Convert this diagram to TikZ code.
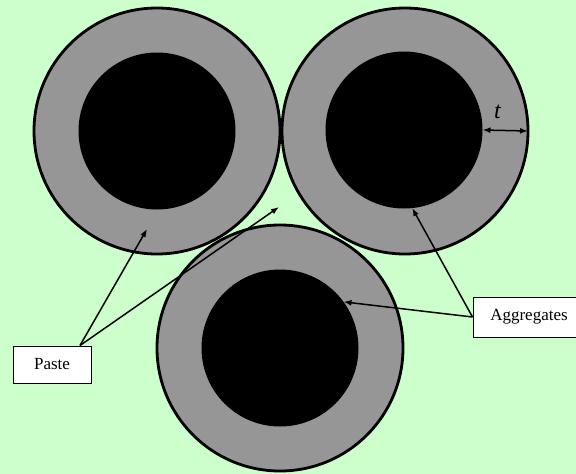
\documentclass[tikz,border=0pt]{standalone}
\usepackage{fontspec}
\setmainfont{Liberation Serif}
\usetikzlibrary{arrows.meta}
\definecolor{bggreen}{HTML}{CCFFCC}
\definecolor{pastegray}{HTML}{969696}

\begin{document}
\begin{tikzpicture}[x=1pt,y=-1pt,>={Latex[length=8pt,width=6pt]},
        shell/.style={circle,draw,line width=2.8pt,fill=pastegray,minimum size=246pt,inner sep=0pt,outer sep=0pt},
        core/.style={circle,fill=black,minimum size=157pt,inner sep=0pt,outer sep=0pt},
        label/.style={draw,fill=white,line width=1pt,inner sep=0pt,font=\fontsize{17}{20}\selectfont},
        pointer/.style={->,line width=1.5pt}]
        \fill[bggreen] (0,0) rectangle (576,474);
        \useasboundingbox (0,0) rectangle (576,474);
        \node[shell] (ring1) at (157,131) {};
        \node[shell] (ring2) at (405,131) {};
        \node[shell] (ring3) at (280,348) {};
        \node[core] (agg1) at (157,131) {};
        \node[core] (agg2) at (404,130) {};
        \node[core] (agg3) at (280,348) {};
        \node[label,minimum width=78pt,minimum height=37pt] (paste) at (52,364.5) {Paste};
        \node[label,minimum width=112pt,minimum height=40pt] (aggregates) at (529,317) {Aggregates};
        \coordinate (shell1) at (147,229);
        \coordinate (gap) at (279,207);
        \draw[pointer] ([xshift=28pt]paste.north) -- (shell1);
        \draw[pointer] ([xshift=28pt]paste.north) -- (gap);
        \draw[pointer] (aggregates.west) -- (agg2.-84);
        \draw[pointer] (aggregates.west) -- (agg3.36);
        \draw[<->,line width=1.5pt] (agg2.east) -- (ring2.east) node[pos=0.33,above=8pt,font=\fontsize{24}{28}\selectfont\itshape] (thick) {t};
\end{tikzpicture}
\end{document}
